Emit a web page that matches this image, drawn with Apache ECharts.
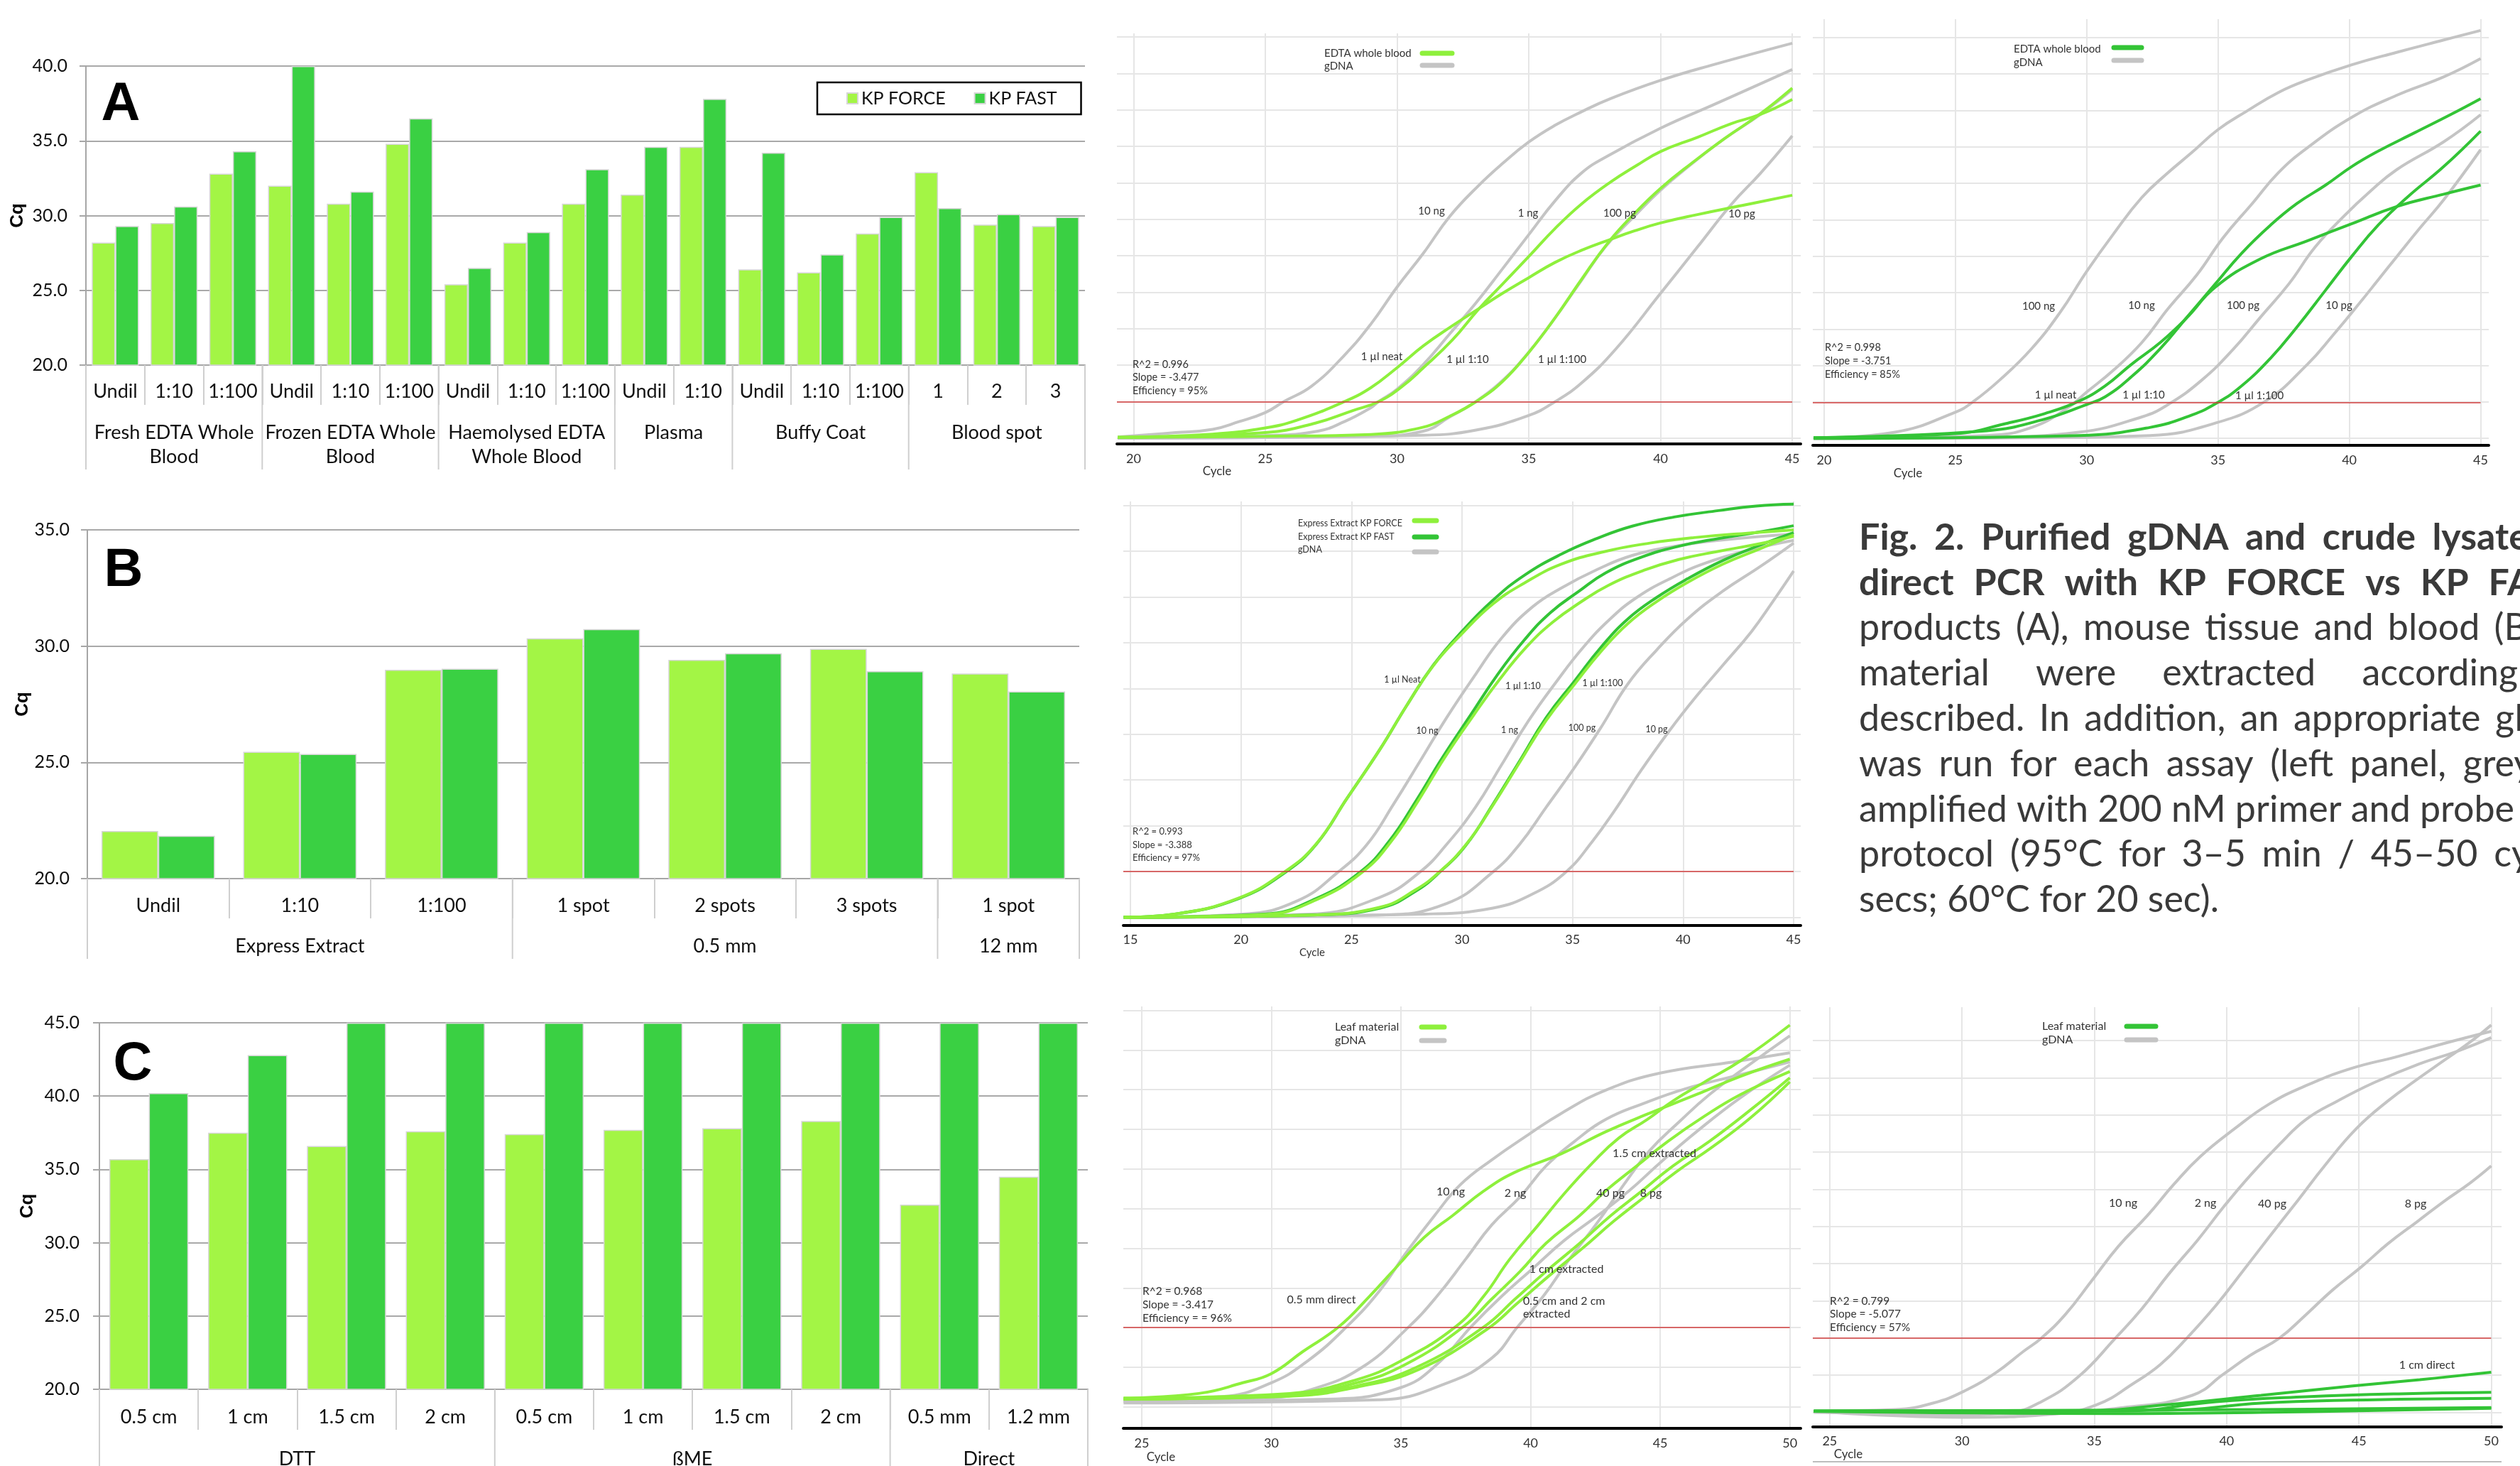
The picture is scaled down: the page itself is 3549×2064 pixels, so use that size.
<!DOCTYPE html>
<html><head><meta charset="utf-8">
<script src="https://cdn.jsdelivr.net/npm/echarts@6/dist/echarts.min.js"></script>
<style>html,body{margin:0;padding:0;background:#fff;}#c{width:3549px;height:2064px;}</style>
</head><body><div id="c"></div>
<script>
// ---------------- Bar chart data ----------------
const catsA = ['Undil','1:10','1:100','Undil','1:10','1:100','Undil','1:10','1:100','Undil','1:10','Undil','1:10','1:100','1','2','3'];
const groupsA = ['Fresh EDTA Whole\nBlood','Frozen EDTA Whole\nBlood','Haemolysed EDTA\nWhole Blood','Plasma','Buffy Coat','Blood spot'];
const groupSizesA = [3,3,3,2,3,3];
const forceA = [28.2,29.5,32.8,32.0,30.8,34.8,25.4,28.2,30.8,31.4,34.6,26.4,26.2,28.8,32.9,29.4,29.3];
const fastA  = [29.3,30.6,34.3,40.0,31.6,36.5,26.5,28.9,33.1,34.6,37.8,34.2,27.4,29.9,30.5,30.1,29.9];
const ticksA = [20,25,30,35,40];

const catsB = ['Undil','1:10','1:100','1 spot','2 spots','3 spots','1 spot'];
const groupsB = ['Express Extract','0.5 mm','12 mm'];
const groupSizesB = [3,3,1];
const forceB = [22.05,25.45,28.98,30.33,29.41,29.88,28.82];
const fastB  = [21.84,25.36,29.03,30.73,29.69,28.92,28.05];
const ticksB = [20,25,30,35];

const catsC = ['0.5 cm','1 cm','1.5 cm','2 cm','0.5 cm','1 cm','1.5 cm','2 cm','0.5 mm','1.2 mm'];
const groupsC = ['DTT','ßME','Direct'];
const groupSizesC = [4,4,2];
const forceC = [35.7,37.5,36.6,37.6,37.4,37.7,37.8,38.3,32.6,34.5];
const fastC  = [40.2,42.8,45,45,45,45,45,45,45,45];
const ticksC = [20,25,30,35,40,45];

// ---------------- Amplification curves [cycle, fluorescence in grid units] ----------------
const cycleTicks20 = [20,25,30,35,40,45];
const cycleTicks15 = [15,20,25,30,35,40,45];
const cycleTicks25 = [25,30,35,40,45,50];
const units11 = [0,1,2,3,4,5,6,7,8,9,10,11];
const units9 = [0,1,2,3,4,5,6,7,8,9];
const units10 = [0,1,2,3,4,5,6,7,8,9,10];

// Plot 1: EDTA whole blood, KP FORCE
const p1_g10ng = [[19.4,0.03],[21.6,0.15],[23,0.24],[24,0.45],[25,0.7],[25.7,1.0],[26.75,1.42],[28,2.27],[29,3.12],[30,4.14],[31,5.07],[32,6.08],[33.1,6.93],[34,7.53],[35,8.12],[36,8.58],[37,8.95],[38.1,9.31],[40,9.81],[42,10.24],[45,10.83]];
const p1_g1ng = [[19.4,0],[25,0.07],[27,0.19],[28,0.45],[29,0.83],[29.3,1.0],[30,1.34],[31,2.02],[32,2.86],[33,3.71],[34,4.64],[35,5.58],[36,6.51],[37,7.27],[38,7.74],[40,8.5],[42,9.14],[45,10.11]];
const p1_g100pg = [[19.4,0],[29,0.05],[31,0.19],[32,0.58],[32.9,0.96],[33.9,1.51],[34.9,2.27],[35.9,3.2],[36.9,4.22],[37.9,5.24],[39,6.08],[40,6.8],[41.2,7.53],[42.4,8.2],[43.8,8.88],[45,9.56]];
const p1_g10pg = [[19.4,0],[31,0.08],[33,0.22],[35,0.62],[36,1.0],[37,1.51],[38.3,2.44],[40,3.97],[41.4,5.24],[42.7,6.42],[43.8,7.27],[45,8.29]];
const p1_neat = [[19.4,0.02],[23,0.11],[25,0.28],[26.2,0.49],[28,1.0],[29,1.38],[30,1.93],[31,2.53],[32.1,3.08],[33.1,3.55],[34,3.97],[35,4.4],[36,4.82],[37,5.15],[38.1,5.45],[39,5.68],[40,5.9],[41.4,6.13],[43.1,6.38],[45,6.66]];
const p1_d10 = [[19.4,0.02],[25,0.15],[26.9,0.41],[28.3,0.75],[29.3,1.0],[30.2,1.42],[31,1.93],[32.1,2.69],[33.1,3.54],[34,4.22],[35,4.98],[36,5.75],[37,6.42],[38.1,7.02],[39.1,7.48],[40,7.86],[41.4,8.25],[42.7,8.63],[43.8,8.88],[45,9.29]];
const p1_d100 = [[19.4,0.02],[25,0.05],[29,0.1],[31,0.3],[32,0.6],[33,1.0],[34,1.55],[35,2.35],[36,3.3],[37,4.35],[38,5.35],[39,6.15],[40,6.85],[41.2,7.55],[42.4,8.2],[43.8,8.9],[45,9.6]];

// Plot 2: EDTA whole blood, KP FAST
const p2_g100ng = [[19.6,0],[22.7,0.17],[25,0.72],[25.7,1.02],[26.7,1.61],[27.9,2.46],[29,3.47],[30,4.58],[31,5.59],[32.1,6.61],[33.1,7.29],[34,7.84],[35,8.47],[36.1,8.98],[37.3,9.49],[38.4,9.83],[40.1,10.25],[41.8,10.59],[43.6,10.93],[45,11.19]];
const p2_g10ng = [[19.6,0],[26.2,0.08],[27.9,0.3],[29.3,0.85],[30,1.27],[31,1.86],[32.1,2.63],[33.1,3.56],[34.2,4.49],[35.2,5.51],[36.3,6.44],[37.3,7.29],[38.4,7.97],[40.1,8.81],[41.8,9.41],[43.6,9.92],[45,10.42]];
const p2_g100pg = [[19.6,0],[26,0.03],[29.7,0.17],[32.1,0.59],[33.1,0.93],[34.4,1.61],[35.6,2.46],[36.6,3.31],[37.7,4.24],[38.7,5.25],[39.8,6.1],[40.8,6.78],[41.8,7.37],[43.6,8.14],[45,8.88]];
const p2_g10pg = [[19.6,0],[28,0.02],[32.4,0.08],[34.9,0.42],[36.8,1.02],[38.4,2.03],[39.4,2.85],[40.4,3.72],[41.1,4.35],[41.8,4.98],[42.7,5.78],[43.6,6.55],[45,7.92]];
const p2_neat = [[19.6,0.02],[25,0.13],[27,0.42],[28.4,0.68],[29.7,1.02],[30.7,1.44],[31.7,2.03],[32.8,2.63],[33.8,3.3],[34.9,4.15],[36.6,4.92],[38.4,5.42],[40.1,5.89],[41.8,6.36],[43.6,6.7],[45,6.95]];
const p2_d10 = [[19.6,0.02],[26.2,0.21],[28.3,0.51],[30,0.93],[30.7,1.14],[31.7,1.69],[32.8,2.46],[33.8,3.31],[34.9,4.24],[35.9,5.08],[37,5.85],[38,6.44],[39.1,6.95],[40.1,7.46],[41.1,7.88],[42.5,8.39],[43.9,8.9],[45,9.32]];
const p2_d100 = [[19.6,0],[29.7,0.08],[32.4,0.3],[34,0.64],[35,0.99],[35.9,1.44],[37,2.2],[38,3.05],[39.1,4.07],[40.1,5.0],[41.1,5.85],[42.2,6.61],[43.6,7.46],[45,8.43]];

// Plot 3: Express Extract, KP FORCE vs KP FAST
const p3_g10ng = [[14.7,0],[20.1,0.07],[22.6,0.37],[24.4,0.99],[25.7,1.59],[26.9,2.47],[28.1,3.41],[29.3,4.36],[30.6,5.3],[31.8,6.11],[33.2,6.79],[34.5,7.2],[36.1,7.6],[37.7,7.91],[39.6,8.11],[41.6,8.24],[45,8.38]];
const p3_g1ng = [[14.7,0],[23.2,0.07],[26.3,0.44],[28.1,0.99],[29.3,1.59],[30.6,2.4],[31.8,3.34],[33,4.29],[34.3,5.17],[35.5,5.91],[36.7,6.52],[37.9,6.99],[39.4,7.4],[41,7.74],[43.1,8.04],[45,8.24]];
const p3_g100pg = [[14.7,0],[26.3,0.05],[29.3,0.3],[31.4,0.99],[32.6,1.59],[33.8,2.4],[35.1,3.28],[36.3,4.16],[37.5,5.1],[38.8,5.84],[40.2,6.52],[41.8,7.13],[43.5,7.67],[45,8.18]];
const p3_g10pg = [[14.7,0],[28.3,0.07],[31.4,0.2],[33.2,0.51],[34.7,0.99],[35.9,1.66],[36.9,2.33],[38.1,3.21],[39.4,4.09],[40.6,4.83],[41.8,5.51],[43.1,6.25],[44.1,6.93],[45,7.57]];
const p3_forceNeat = [[14.7,0],[17,0.07],[19.9,0.42],[22,1.0],[23.4,1.6],[24.8,2.6],[26.3,3.68],[27.5,4.63],[28.7,5.5],[30,6.2],[31.4,6.85],[32.8,7.3],[34.5,7.72],[36.5,8.0],[38.5,8.18],[40.5,8.3],[43,8.4],[45,8.47]];
const p3_force10 = [[14.7,0],[21.1,0.06],[23.4,0.38],[25.5,0.99],[26.8,1.66],[28,2.53],[29.2,3.48],[30.5,4.4],[31.7,5.2],[32.9,5.9],[34.1,6.45],[35.4,6.9],[36.6,7.25],[38.2,7.58],[39.8,7.82],[41.6,8.0],[43.3,8.15],[45,8.33]];
const p3_force100 = [[14.7,0],[23.2,0.05],[26.3,0.22],[27.9,0.6],[29,1.0],[30.2,1.6],[31.4,2.45],[32.6,3.38],[33.8,4.3],[35.1,5.1],[36.3,5.82],[37.5,6.42],[38.8,6.9],[40.2,7.32],[41.8,7.72],[43.5,8.06],[45,8.36]];
const p3_fastNeat = [[14.7,0],[17,0.07],[19.9,0.41],[22,0.98],[23.4,1.59],[24.8,2.6],[26.3,3.68],[27.5,4.63],[28.7,5.51],[30,6.25],[31.4,6.93],[32.8,7.47],[34.5,7.94],[36.1,8.28],[37.7,8.55],[39.6,8.75],[41.6,8.89],[43.3,8.99],[45,9.03]];
const p3_fast10 = [[14.7,0],[21.1,0.07],[23.4,0.41],[25.4,0.99],[26.7,1.66],[27.9,2.53],[29.1,3.48],[30.4,4.43],[31.6,5.3],[32.8,6.05],[34,6.66],[35.3,7.13],[36.5,7.53],[38.1,7.87],[39.8,8.11],[41.6,8.28],[43.3,8.41],[45,8.56]];
const p3_fast100 = [[14.7,0],[23.2,0.05],[26.3,0.2],[27.9,0.57],[29,0.99],[30.2,1.59],[31.4,2.47],[32.6,3.41],[33.8,4.36],[35.1,5.17],[36.3,5.91],[37.5,6.52],[38.8,6.99],[40.2,7.4],[41.8,7.8],[43.5,8.14],[45,8.41]];

// Plot 4: Leaf material, KP FORCE
const p4_g10ng = [[24.3,0.18],[28.1,0.26],[30,0.61],[31.4,1.16],[32.9,2.02],[34.2,2.95],[35.2,3.89],[36.3,4.83],[37.3,5.61],[38.5,6.23],[39.9,6.86],[41.2,7.41],[42.9,7.99],[45,8.42],[47.8,8.7],[50,8.93]];
const p4_g2ng = [[24.3,0.14],[29.8,0.22],[31.6,0.45],[33.5,1.0],[35.3,2.02],[36.4,2.8],[37.5,3.73],[38.5,4.59],[39.6,5.3],[40.6,6.08],[41.7,6.7],[42.9,7.25],[44.3,7.64],[46,8.03],[48.1,8.38],[50,8.7]];
const p4_g40pg = [[24.3,0.14],[32.4,0.2],[35,0.49],[36.4,1.08],[37.7,2.02],[38.9,2.8],[40.1,3.5],[41.3,4.2],[42.6,4.83],[43.8,5.45],[45,6.16],[46.4,6.94],[48.1,7.8],[50,8.62]];
const p4_g8pg = [[24.3,0.1],[34.2,0.18],[36.8,0.61],[38.5,1.23],[39.5,2.02],[40.5,2.8],[41.5,3.73],[42.6,4.67],[43.6,5.61],[44.6,6.47],[45.7,7.17],[46.9,7.88],[48.5,8.66],[50,9.36]];
const p4_direct05mm = [[24.3,0.22],[27.2,0.34],[28.9,0.61],[30,0.84],[31.2,1.39],[32.6,2.02],[33.8,2.8],[34.9,3.58],[35.9,4.28],[37,4.83],[38.2,5.45],[39.4,5.92],[41.2,6.39],[42.9,6.94],[44.6,7.41],[46.4,7.88],[48.1,8.34],[50,8.77]];
const p4_ext15cm = [[24.3,0.22],[30.7,0.34],[33.3,0.69],[35,1.16],[37.1,2.02],[38.2,2.8],[39.2,3.73],[40.3,4.59],[41.3,5.38],[42.4,6.16],[43.4,6.78],[44.5,7.25],[45.5,7.72],[46.7,8.19],[48.1,8.73],[50,9.63]];
const p4_ext1cm = [[24.3,0.2],[30.7,0.3],[33.3,0.61],[35.2,1.08],[37.4,2.02],[38.5,2.72],[39.6,3.42],[40.6,4.13],[41.9,4.83],[42.9,5.45],[44.1,6.08],[45.3,6.7],[46.7,7.33],[48.1,7.88],[50,8.46]];
const p4_ext05cm = [[24.3,0.2],[30.7,0.28],[33.3,0.53],[35.6,1.0],[38.2,2.02],[39.4,2.72],[40.6,3.42],[41.9,4.13],[43.1,4.83],[44.3,5.45],[45.5,6.08],[46.9,6.7],[48.5,7.5],[50,8.3]];
const p4_ext2cm = [[24.3,0.2],[30.7,0.27],[33.3,0.5],[35.7,0.95],[38.3,1.95],[39.5,2.62],[40.7,3.3],[42,4.0],[43.2,4.68],[44.4,5.3],[45.6,5.92],[47,6.55],[48.5,7.3],[50,8.2]];

// Plot 5: Leaf material, KP FAST
const p5_g10ng = [[24.4,0.04],[27.5,0.08],[28.9,0.25],[30.1,0.58],[31.3,1.08],[32.3,1.63],[33,2.0],[33.9,2.63],[34.9,3.54],[35.9,4.46],[37,5.29],[38,6.13],[39,6.88],[40.3,7.63],[41.6,8.29],[43,8.79],[44.7,9.25],[46.5,9.58],[48.2,9.92],[50,10.25]];
const p5_g2ng = [[24.4,0.03],[29.2,-0.08],[31.8,0],[33,0.29],[34.4,0.96],[35.8,2.0],[36.8,2.79],[37.8,3.71],[38.9,4.63],[39.9,5.54],[40.9,6.38],[42,7.21],[43,7.88],[44.2,8.38],[45.6,8.88],[47.3,9.38],[48.7,9.71],[50,10.08]];
const p5_g40pg = [[24.4,0.03],[30.1,-0.13],[33.5,-0.04],[35.1,0.21],[36.5,0.79],[37.5,1.29],[38.5,2.0],[39.6,2.88],[40.6,3.79],[41.6,4.71],[42.7,5.71],[43.7,6.63],[44.9,7.63],[46.1,8.38],[47.2,8.96],[48.2,9.46],[49.2,9.96],[50,10.42]];
const p5_g8pg = [[24.4,0],[32.7,-0.04],[36.1,0.13],[38.7,0.46],[39.9,1.04],[40.9,1.54],[42,2.0],[43,2.63],[44,3.29],[45.1,3.92],[46.1,4.54],[47.2,5.13],[48.2,5.67],[49.2,6.17],[50,6.63]];
const p5_direct1cm = [[24.4,0.04],[34.4,0.04],[37.8,0.21],[41.3,0.46],[44.7,0.71],[47.3,0.88],[50,1.08]];
const p5_leafB = [[24.4,0.04],[36.1,0.04],[39.6,0.29],[43,0.42],[46.5,0.5],[50,0.54]];
const p5_leafC = [[24.4,0.03],[37.8,0.06],[41.3,0.25],[44.7,0.33],[50,0.38]];
const p5_leafD = [[24.4,0.03],[41.3,0.08],[50,0.13]];
const p5_leafE = [[24.4,0.03],[36.1,-0.03],[41.3,0],[50,0.11]];

// ---------------- Styles ----------------
const BAR_FORCE = '#A3F545', BAR_FAST = '#3AD043';
const LG = '#8EF03C', DG = '#33C436', GR = '#C4C4C4', RED = '#D23C3C';
const FONT = 'Lato';

const chart = echarts.init(document.getElementById('c'), null, {renderer:'canvas', width:3549, height:2064});

const grids = [], xAxes = [], yAxes = [], series = [];

function addBarPanel(g, cats, ticks, force, fast, tickLen, labelMargin, yMargin, nameGap) {
  const gi = grids.length;
  grids.push(Object.assign({outerBoundsMode:'none', containLabel:false}, g));
  xAxes.push({type:'category', gridIndex:gi, data:cats,
    axisLine:{show:true, lineStyle:{color:'#A6A6A6', width:2}},
    axisTick:{show:true, interval:0, length:tickLen, lineStyle:{color:'#CFCFCF', width:2}},
    axisLabel:{interval:0, margin:labelMargin, fontSize:27, fontFamily:FONT, color:'#111'},
    splitLine:{show:false}});
  yAxes.push({type:'value', gridIndex:gi, min:ticks[0], max:ticks[ticks.length-1], interval:ticks[1]-ticks[0],
    axisLine:{show:true, lineStyle:{color:'#A6A6A6', width:2}},
    axisTick:{show:true, length:9, lineStyle:{color:'#A6A6A6', width:2}},
    axisLabel:{formatter:v=>v.toFixed(1), margin:yMargin, fontSize:25, fontFamily:FONT, color:'#111'},
    splitLine:{show:true, lineStyle:{color:'#A9A9A9', width:2}},
    name:'Cq', nameLocation:'middle', nameGap:nameGap, nameRotate:90,
    nameTextStyle:{fontSize:26, fontWeight:'bold', fontFamily:'Liberation Sans', color:'#000'}});
  const common = {type:'bar', xAxisIndex:gi, yAxisIndex:gi, barGap:'0%', barCategoryGap:'20%', silent:true};
  series.push(Object.assign({name:'KP FORCE', data:force, itemStyle:{color:BAR_FORCE, borderColor:'#D6D6D6', borderWidth:1.5}}, common));
  series.push(Object.assign({name:'KP FAST', data:fast, itemStyle:{color:BAR_FAST, borderColor:'#D6D6D6', borderWidth:1.5}}, common));
  return gi;
}

const giA = addBarPanel({left:121, top:93, width:1407, height:421}, catsA, ticksA, forceA, fastA, 56, 24, 26, 83);
const giB = addBarPanel({left:123, top:746, width:1397, height:491}, catsB, ticksB, forceB, fastB, 56, 25, 25, 66);
const giC = addBarPanel({left:140, top:1440, width:1392, height:516}, catsC, ticksC, forceC, fastC, 57, 26, 28, 88);

function addAmpPlot(p) {
  const gi = grids.length;
  grids.push(Object.assign({outerBoundsMode:'none', containLabel:false}, p.grid));
  xAxes.push({type:'value', gridIndex:gi, min:p.x[0], max:p.x[1],
    axisLine:{show:true, onZero:false, lineStyle:{color:'#000', width:4}},
    axisTick:{show:false, customValues:p.xt},
    axisLabel:{customValues:p.xt, margin:p.lm, fontSize:18, fontFamily:FONT, color:'#333'},
    splitLine:{show:true, lineStyle:{color:'#E6E6E6', width:2}}});
  yAxes.push({type:'value', gridIndex:gi, min:p.y[0], max:p.y[1],
    axisLine:{show:false}, axisTick:{show:false, customValues:p.yt},
    axisLabel:{show:false, customValues:p.yt},
    splitLine:{show:true, lineStyle:{color:'#E6E6E6', width:2}}});
  p.curves.forEach((c, i) => {
    const s = {type:'line', name:c.name, xAxisIndex:gi, yAxisIndex:gi, data:c.data,
      showSymbol:false, symbol:'none', smooth:0.45, silent:true, clip:true,
      lineStyle:{width:4, color:c.color}, itemStyle:{color:c.color}, z: c.color === GR ? 2 : 3};
    if (i === 0) {
      s.markLine = {silent:true, symbol:'none', label:{show:false}, animation:false,
        lineStyle:{color:RED, width:1.6, type:'solid'},
        data:[[{coord:[p.x[0], p.thr]}, {coord:[p.xEnd, p.thr]}]]};
    }
    series.push(s);
  });
  return gi;
}

addAmpPlot({grid:{left:1573, top:47, width:963, height:578}, x:[19.37,45.32], xt:cycleTicks20, y:[-0.16,11.1], yt:units11, thr:1.0, xEnd:45, lm:12,
  curves:[{name:'gDNA',data:p1_g10ng,color:GR},{name:'gDNA',data:p1_g1ng,color:GR},{name:'gDNA',data:p1_g100pg,color:GR},{name:'gDNA',data:p1_g10pg,color:GR},
          {name:'EDTA whole blood',data:p1_neat,color:LG},{name:'EDTA whole blood',data:p1_d10,color:LG},{name:'EDTA whole blood',data:p1_d100,color:LG}]});
addAmpPlot({grid:{left:2553, top:27, width:952, height:600}, x:[19.57,45.31], xt:cycleTicks20, y:[-0.19,11.5], yt:units11, thr:0.98, xEnd:45, lm:12,
  curves:[{name:'gDNA',data:p2_g100ng,color:GR},{name:'gDNA',data:p2_g10ng,color:GR},{name:'gDNA',data:p2_g100pg,color:GR},{name:'gDNA',data:p2_g10pg,color:GR},
          {name:'EDTA whole blood (FAST)',data:p2_neat,color:DG},{name:'EDTA whole blood (FAST)',data:p2_d10,color:DG},{name:'EDTA whole blood (FAST)',data:p2_d100,color:DG}]});
addAmpPlot({grid:{left:1582, top:706, width:954, height:597}, x:[14.68,45.32], xt:cycleTicks15, y:[-0.18,9.09], yt:units9, thr:1.0, xEnd:45, lm:11,
  curves:[{name:'gDNA',data:p3_g10ng,color:GR},{name:'gDNA',data:p3_g1ng,color:GR},{name:'gDNA',data:p3_g100pg,color:GR},{name:'gDNA',data:p3_g10pg,color:GR},
          {name:'Express Extract KP FAST',data:p3_fastNeat,color:DG},{name:'Express Extract KP FAST',data:p3_fast10,color:DG},{name:'Express Extract KP FAST',data:p3_fast100,color:DG},
          {name:'Express Extract KP FORCE',data:p3_forceNeat,color:LG},{name:'Express Extract KP FORCE',data:p3_force10,color:LG},{name:'Express Extract KP FORCE',data:p3_force100,color:LG}]});
addAmpPlot({grid:{left:1582, top:1417, width:954, height:594}, x:[24.29,50.42], xt:cycleTicks25, y:[-0.54,10.1], yt:units10, thr:2.0, xEnd:50, lm:12,
  curves:[{name:'gDNA',data:p4_g10ng,color:GR},{name:'gDNA',data:p4_g2ng,color:GR},{name:'gDNA',data:p4_g40pg,color:GR},{name:'gDNA',data:p4_g8pg,color:GR},
          {name:'Leaf material',data:p4_direct05mm,color:LG},{name:'Leaf material',data:p4_ext15cm,color:LG},{name:'Leaf material',data:p4_ext1cm,color:LG},
          {name:'Leaf material',data:p4_ext05cm,color:LG},{name:'Leaf material',data:p4_ext2cm,color:LG}]});
addAmpPlot({grid:{left:2553, top:1418, width:970, height:591}, x:[24.36,50.39], xt:cycleTicks25, y:[-0.39,10.9], yt:units10, thr:2.0, xEnd:50, lm:11,
  curves:[{name:'gDNA',data:p5_g10ng,color:GR},{name:'gDNA',data:p5_g2ng,color:GR},{name:'gDNA',data:p5_g40pg,color:GR},{name:'gDNA',data:p5_g8pg,color:GR},
          {name:'Leaf material (FAST)',data:p5_direct1cm,color:DG},{name:'Leaf material (FAST)',data:p5_leafB,color:DG},{name:'Leaf material (FAST)',data:p5_leafC,color:DG},
          {name:'Leaf material (FAST)',data:p5_leafD,color:DG},{name:'Leaf material (FAST)',data:p5_leafE,color:DG}]});

chart.setOption({
  animation:false, backgroundColor:'#ffffff',
  textStyle:{fontFamily:FONT},
  grid:grids, xAxis:xAxes, yAxis:yAxes, series:series,
  legend:[{data:['KP FORCE','KP FAST'], left:1151, top:116, orient:'horizontal', icon:'rect',
    itemWidth:15, itemHeight:15, itemGap:40, padding:[10,34,10,41], selectedMode:false,
    borderColor:'#000', borderWidth:2.5, backgroundColor:'#fff', borderRadius:0,
    textStyle:{fontSize:25, fontFamily:FONT, color:'#111'}}]
});

// ---------------- Graphics (group labels, annotations, caption) ----------------
const G = [];
function txt(x, y, text, o) {
  o = o || {};
  G.push({type:'text', x:x, y:y, silent:true, z:50, style:{text:text, fill:o.fill||'#333',
    fontSize:o.size||15, fontFamily:o.family||FONT, fontWeight:o.weight||'normal',
    align:o.align||'left', verticalAlign:o.va||'middle', textAlign:o.align||'left', textVerticalAlign:o.va||'middle',
    lineHeight:o.lh||undefined}});
}
function line(x1,y1,x2,y2,stroke,w,cap) {
  G.push({type:'line', silent:true, z:50, shape:{x1,y1,x2,y2}, style:{stroke, lineWidth:w, lineCap:cap||'butt'}});
}
function groups(xi, n, sizes, names, sepTop, sepBottom, labelTop) {
  const c0 = chart.convertToPixel({xAxisIndex:xi}, 0);
  const c1 = chart.convertToPixel({xAxisIndex:xi}, 1);
  const bw = c1 - c0, b0 = c0 - bw/2;
  let k = 0;
  line(b0, sepTop, b0, sepBottom, '#CFCFCF', 2);
  sizes.forEach((s, gi) => {
    const l = b0 + k*bw, r = b0 + (k+s)*bw;
    line(r, sepTop, r, sepBottom, '#CFCFCF', 2);
    txt((l+r)/2, labelTop, names[gi], {size:27, fill:'#111', align:'center', va:'top', lh:34});
    k += s;
  });
}
groups(giA, catsA.length, groupSizesA, groupsA, 514, 661, 592);
groups(giB, catsB.length, groupSizesB, groupsB, 1237, 1350, 1315);
groups(giC, catsC.length, groupSizesC, groupsC, 1956, 2070, 2037);

txt(170, 148, 'A', {size:76, weight:'bold', family:'Liberation Sans', fill:'#000', align:'center'});
txt(174, 804, 'B', {size:76, weight:'bold', family:'Liberation Sans', fill:'#000', align:'center'});
txt(187, 1499, 'C', {size:76, weight:'bold', family:'Liberation Sans', fill:'#000', align:'center'});

// amplification plot annotations
function legendRows(x, rows, sx1, sx2, size) {
  rows.forEach(r => { txt(x, r[1], r[0], {size:size}); line(sx1, r[2], sx2, r[2], r[3], 7, 'round'); });
}
legendRows(1865, [['EDTA whole blood',75,75,LG],['gDNA',93,92,GR]], 2003, 2045, 15);
legendRows(2836, [['EDTA whole blood',69,67,DG],['gDNA',88,85,GR]], 2977, 3016, 15);
legendRows(1828, [['Express Extract KP FORCE',737,733,LG],['Express Extract KP FAST',756,756,DG],['gDNA',774,777,GR]], 1992, 2023, 12.5);
legendRows(1880, [['Leaf material',1446,1446,LG],['gDNA',1465,1465,GR]], 2002, 2034, 16);
legendRows(2876, [['Leaf material',1445,1445,DG],['gDNA',1464,1464,GR]], 2995, 3036, 16);

[['10 ng',2016,297],['1 ng',2152,300],['100 pg',2281,300],['10 pg',2453,301],['1 µl neat',1946,502],['1 µl 1:10',2067,506],['1 µl 1:100',2200,506]]
  .forEach(a => txt(a[1], a[2], a[0], {size:15, align:'center'}));
[['100 ng',2871,431],['10 ng',3016,430],['100 pg',3159,430],['10 pg',3294,430],['1 µl neat',2895,556],['1 µl 1:10',3019,556],['1 µl 1:100',3182,557]]
  .forEach(a => txt(a[1], a[2], a[0], {size:15, align:'center'}));
[['1 µl Neat',1975,957],['1 µl 1:10',2145,966],['1 µl 1:100',2257,962],['10 ng',2010,1029],['1 ng',2126,1028],['100 pg',2228,1025],['10 pg',2333,1027]]
  .forEach(a => txt(a[1], a[2], a[0], {size:12.5, align:'center'}));
[['10 ng',2043,1678],['2 ng',2134,1680],['40 pg',2268,1680],['8 pg',2325,1680],['1.5 cm extracted',2330,1624],['1 cm extracted',2206,1787],['0.5 mm direct',1861,1830]]
  .forEach(a => txt(a[1], a[2], a[0], {size:16, align:'center'}));
txt(2145, 1832, '0.5 cm and 2 cm', {size:16});
txt(2145, 1850, 'extracted', {size:16});
[['10 ng',2990,1694],['2 ng',3106,1694],['40 pg',3200,1695],['8 pg',3402,1695],['1 cm direct',3418,1922]]
  .forEach(a => txt(a[1], a[2], a[0], {size:16, align:'center'}));

function stats(x, ys, lines, size) { lines.forEach((t,i) => txt(x, ys[i], t, {size:size})); }
stats(1595, [513,531,550], ['R^2 = 0.996','Slope = -3.477','Efficiency = 95%'], 14.5);
stats(2570, [489,508,527], ['R^2 = 0.998','Slope = -3.751','Efficiency = 85%'], 14.5);
stats(1595, [1171,1190,1208], ['R^2 = 0.993','Slope = -3.388','Efficiency = 97%'], 13);
stats(1609, [1818,1837,1856], ['R^2 = 0.968','Slope = -3.417','Efficiency = = 96%'], 15.5);
stats(2577, [1832,1850,1869], ['R^2 = 0.799','Slope = -5.077','Efficiency = 57%'], 15.5);

txt(1714, 664, 'Cycle', {size:17, align:'center'});
txt(2687, 667, 'Cycle', {size:17, align:'center'});
txt(1848, 1341, 'Cycle', {size:15, align:'center'});
txt(1635, 2052, 'Cycle', {size:17, align:'center'});
txt(2603, 2048, 'Cycle', {size:17, align:'center'});
line(2553, 2058, 3523, 2058, '#BDBDBD', 2);

// caption (justified lines, cut off at the right edge of the figure)
const CAP_X = 2618, CAP_SIZE = 52;
const mctx = document.createElement('canvas').getContext('2d');
function measure(t, bold) { mctx.font = (bold ? 'bold ' : '') + CAP_SIZE + 'px Lato'; return mctx.measureText(t).width; }
const captionLines = [
  {bold:true, words:['Fig.','2.','Purified','gDNA','and','crude','lysates'], anchor:[6,'lysate',3561]},
  {bold:true, words:['direct','PCR','with','KP','FORCE','vs','KP','FAST'], anchor:[7,'F',3534]},
  {words:['products','(A),','mouse','tissue','and','blood','(B),'], anchor:[6,'(B',3560]},
  {words:['material','were','extracted','according','to'], anchor:[3,'according',3546]},
  {words:['described.','In','addition,','an','appropriate','gDNA'], anchor:[5,'g',3541]},
  {words:['was','run','for','each','assay','(left','panel,','grey)'], anchor:[7,'gre',3541]},
  {words:['amplified','with','200','nM','primer','and','probe'], anchor:[6,'probe',3541]},
  {words:['protocol','(95°C','for','3–5','min','/','45–50','cycles'], anchor:[7,'c',3537]},
  {words:['secs; 60°C for 20 sec).'], anchor:null}
];
captionLines.forEach((ln, i) => {
  const y = 757 + i*63.8;
  const bold = !!ln.bold;
  let gap = measure(' ', bold);
  if (ln.anchor) {
    const k = ln.anchor[0];
    let sum = 0;
    for (let j = 0; j < k; j++) sum += measure(ln.words[j], bold);
    gap = Math.max(gap * 0.8, (ln.anchor[2] - CAP_X - sum - measure(ln.anchor[1], bold)) / k);
  }
  let x = CAP_X;
  ln.words.forEach(w => {
    txt(x, y, w, {size:CAP_SIZE, weight:bold ? 'bold' : 'normal', fill:'#3A3A3A'});
    x += measure(w, bold) + gap;
  });
});

chart.setOption({graphic:{elements:G}});
</script></body></html>
